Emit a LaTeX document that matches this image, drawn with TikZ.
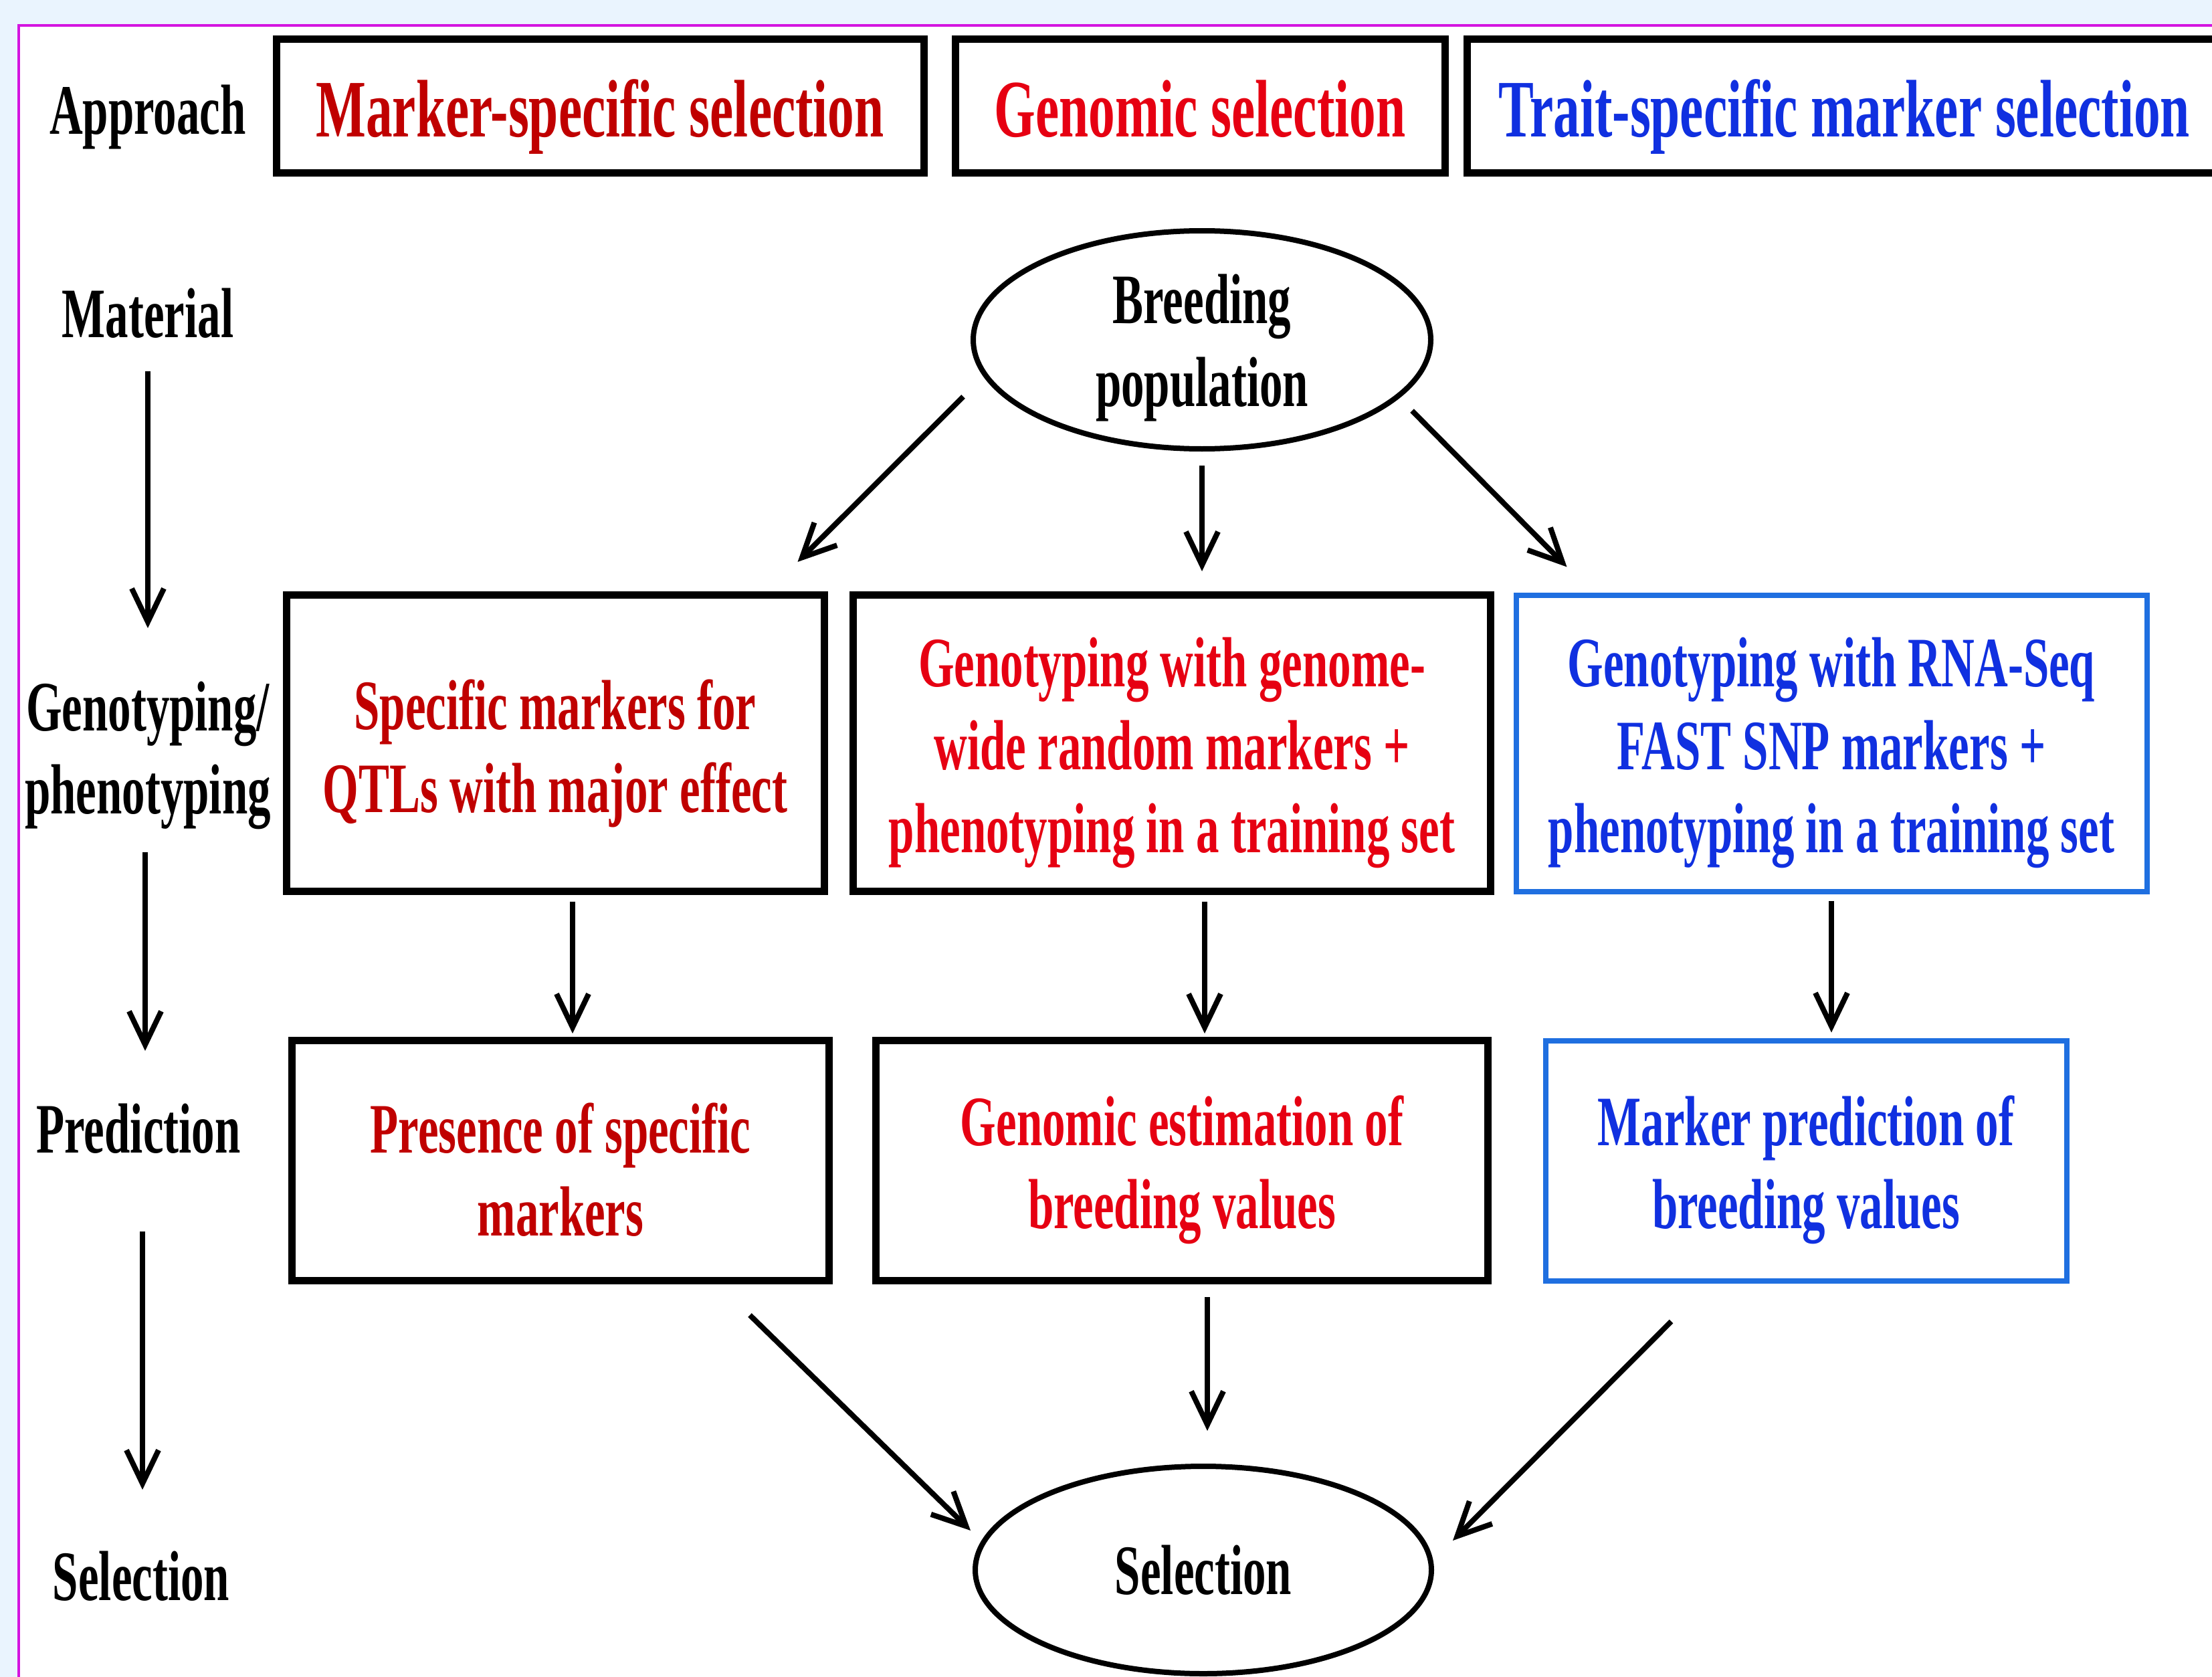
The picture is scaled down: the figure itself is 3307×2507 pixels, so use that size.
\documentclass[tikz,border=0pt]{standalone}
\usepackage{fontspec}
\newfontfamily\tnr{Liberation Serif}[FakeStretch=0.65]
\usetikzlibrary{arrows.meta,calc,shapes.geometric}
\definecolor{bgblue}{HTML}{EAF4FE}
\definecolor{frame}{HTML}{D414E0}
\definecolor{dred}{HTML}{C00000}
\definecolor{bred}{HTML}{E60012}
\definecolor{btext}{HTML}{1030E0}
\definecolor{bborder}{HTML}{1F6FE0}
\newcommand\mylift[1]{\rule{0pt}{#1pt}}
\begin{document}
\begin{tikzpicture}[x=1pt,y=-1pt,
  every node/.style={font=\tnr\bfseries\fontsize{106}{124}\selectfont, inner sep=0pt, align=center},
  title/.style={font=\tnr\bfseries\fontsize{122}{140}\selectfont, text height=110pt, text depth=18pt},
  box/.style={draw=black, line width=11pt, rectangle},
  bbox/.style={draw=bborder, line width=8pt, rectangle},
  ell/.style={ellipse, draw=black, line width=8pt},
  arr/.style={line width=8pt, -{Straight Barb[length=50pt,width=48pt]}}]
\useasboundingbox (0,0) rectangle (3307,2507);
\fill[bgblue] (0,0) rectangle (3307,2507);
\fill[white] (28,38) rectangle (3307,2507);
\draw[frame, line width=4pt] (28,2507) -- (28,38) -- (3307,38);

% left labels
\node (appr) at (221,175) {Approach};
\node (mat) at (221,468) {Material};
\node (geno) at (221,1124) {\mylift{84}Genotyping/\\phenotyping};
\node (pred) at (207,1687) {Prediction};
\node (sellbl) at (211,2356) {Selection};

% approach boxes
\node[box, title, text=dred, minimum width=968, minimum height=200] (b1) at (897,159) {Marker-specific selection};
\node[box, title, text=bred, minimum width=732, minimum height=200] (b2) at (1794,159) {Genomic selection};
\node[box, title, text=btext, minimum width=1128, minimum height=200] (b3) at (2757,159) {Trait-specific marker selection};

% material
\node[ell, inner sep=-30pt, minimum width=684, minimum height=326] (bp) at (1797,508) {\mylift{98}Breeding\\population};

% genotyping row
\node[box, text=dred, minimum width=804, minimum height=443] (A) at (830,1111) {\mylift{106}Specific markers for\\QTLs with major effect};
\node[box, text=bred, minimum width=953, minimum height=443] (B) at (1752,1111) {\mylift{102}Genotyping with genome-\\wide random markers +\\phenotyping in a training set};
\node[bbox, text=btext, minimum width=943, minimum height=443] (C) at (2738,1111) {\mylift{102}Genotyping with RNA-Seq\\FAST SNP markers +\\phenotyping in a training set};

% prediction row
\node[box, text=dred, minimum width=803, minimum height=359] (D) at (838,1735) {\mylift{102}Presence of specific\\markers};
\node[box, text=bred, minimum width=915, minimum height=359] (E) at (1767,1735) {\mylift{102}Genomic estimation of\\breeding values};
\node[bbox, text=btext, minimum width=779, minimum height=359] (F) at (2700,1735) {\mylift{102}Marker prediction of\\breeding values};

% selection
\node[ell, minimum width=682, minimum height=310] (sel) at (1799,2347) {Selection};

% left arrows
\draw[arr] ($(mat.center)+(0,87)$) -- ($(geno.center)+(0,-185)$);
\draw[arr] ($(geno.center)+(-4,150)$) -- ($(pred.center)+(10,-116)$);
\draw[arr] ($(pred.center)+(6,154)$) -- ($(sellbl.center)+(2,-129)$);

% from breeding population
\draw[arr] ($(bp.center)+(-357,85)$) -- ($(A.north east)+(-45,-44)$);
\draw[arr] ($(bp.center)+(0,188)$) -- ($(bp.center |- B.north)+(0,-30)$);
\draw[arr] ($(bp.center)+(314,106)$) -- ($(C.north west)+(80,-38)$);

% genotyping -> prediction
\draw[arr] ($(A.south)+(26,10)$) -- ($(A.south -| 856,0)+(0,207)$);
\draw[arr] ($(B.south)+(49,10)$) -- ($(B.south -| 1801,0)+(0,207)$);
\draw[arr] ($(C.south)+(0,10)$) -- ($(C.south)+(0,207)$);

% prediction -> selection
\draw[arr] ($(D.south east)+(-124,46)$) -- ($(sel.center)+(-348,-59)$);
\draw[arr] ($(E.south)+(38,19)$) -- ($(E.south -| sel.north)+(6,219)$);
\draw[arr] ($(F.south west)+(192,57)$) -- ($(sel.center)+(373,-44)$);
\end{tikzpicture}
\end{document}
